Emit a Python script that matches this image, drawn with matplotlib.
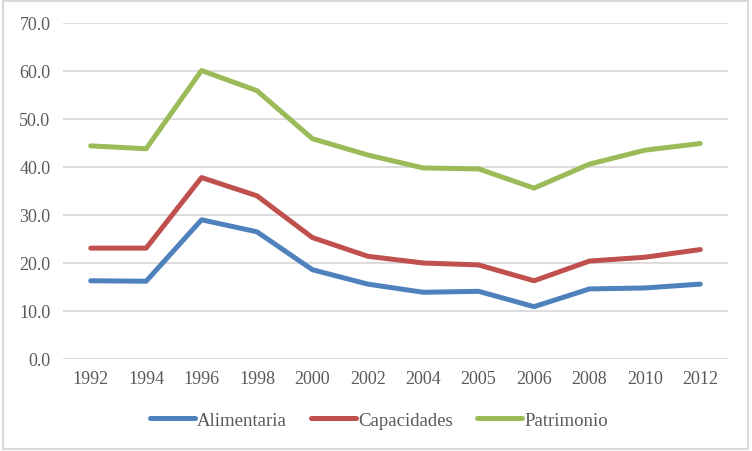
import matplotlib
matplotlib.use("Agg")
import matplotlib.pyplot as plt
from matplotlib.patches import Rectangle

years = ["1992", "1994", "1996", "1998", "2000", "2002", "2004", "2005", "2006", "2008", "2010", "2012"]
alimentaria = [16.3, 16.2, 29.0, 26.5, 18.6, 15.6, 13.9, 14.1, 10.9, 14.6, 14.8, 15.6]
capacidades = [23.1, 23.1, 37.8, 34.0, 25.3, 21.4, 20.0, 19.6, 16.3, 20.4, 21.2, 22.8]
patrimonio = [44.4, 43.8, 60.1, 55.9, 45.9, 42.5, 39.8, 39.6, 35.6, 40.6, 43.5, 44.9]
yticks = [0, 10, 20, 30, 40, 50, 60, 70]

plt.rcParams['font.family'] = ['Liberation Serif', 'DejaVu Serif']

fig = plt.figure(figsize=(7.52, 4.52), dpi=100)
ax = fig.add_axes([63/752, 92/452, 665/752, 336/452])

x = list(range(len(years)))
lw = 3.6
ax.plot(x, alimentaria, color='#4f81bd', lw=lw, label='Alimentaria', solid_capstyle='round', solid_joinstyle='round')
ax.plot(x, capacidades, color='#c0504d', lw=lw, label='Capacidades', solid_capstyle='round', solid_joinstyle='round')
ax.plot(x, patrimonio, color='#9bbb59', lw=lw, label='Patrimonio', solid_capstyle='round', solid_joinstyle='round')

ax.set_xlim(-0.5, len(years) - 0.5)
ax.set_ylim(0, 70)
ax.set_yticks(yticks)
ax.set_yticklabels([f"{v:.1f}" for v in yticks])
ax.set_xticks(x)
ax.set_xticklabels(years)
ax.grid(axis='y', color='#d9d9d9', lw=1.3)
ax.set_axisbelow(True)
for s in ax.spines.values():
    s.set_visible(False)
ax.tick_params(axis='both', length=0, labelsize=13, colors='#595959')
ax.tick_params(axis='y', pad=9)
ax.tick_params(axis='x', pad=8)

leg = fig.legend(loc='center', bbox_to_anchor=(379/752, 31/452), bbox_transform=fig.transFigure,
                 ncol=3, frameon=False, fontsize=13.5, handlelength=2.4, handletextpad=0.1,
                 columnspacing=1.3)
for t in leg.get_texts():
    t.set_color('#595959')

fig.patches.append(Rectangle((3/752, 2/452), 745/752, 448/452, transform=fig.transFigure,
                             fill=False, edgecolor='#d9d9d9', lw=1.5))

fig.savefig('out.png', dpi=100, facecolor='white')
